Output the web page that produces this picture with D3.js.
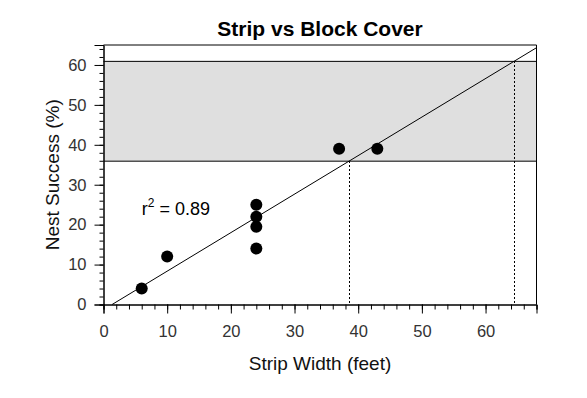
<!DOCTYPE html>
<html>
<head>
<meta charset="utf-8">
<script src="https://cdn.jsdelivr.net/npm/d3@7"></script>
<style>
  body { margin: 0; background: #fff; }
  text { font-family: "Liberation Sans", Arial, sans-serif; }
</style>
</head>
<body>
<div id="wrapper"></div>
<script>
// Data
const stripWidth = [6, 10, 24, 24, 24, 24, 37, 43]
const nestSuccess = [4, 12, 25, 22, 19.5, 14, 39, 39]

// shaded band: range of block cover nest success (%)
const blockCoverRange = [35.9, 60.9]

// regression fit: success = slope * width + intercept
const fitSlope = 0.965
const fitIntercept = -1.3
const rSquared = "0.89"

const xTicks = [0, 10, 20, 30, 40, 50, 60]
const yTicks = [0, 10, 20, 30, 40, 50, 60]

let dimensions = {
  width: 587,
  height: 398,
  margin: { top: 45, right: 50.5, bottom: 93.5, left: 103.5 }
}
dimensions.boundedWidth = dimensions.width - dimensions.margin.left - dimensions.margin.right
dimensions.boundedHeight = dimensions.height - dimensions.margin.top - dimensions.margin.bottom

const wrapper = d3.select('#wrapper').append('svg')
  .attr('width', dimensions.width).attr('height', dimensions.height)
const bounds = wrapper.append('g')
  .attr('transform', `translate(${dimensions.margin.left},${dimensions.margin.top})`)

const xScale = d3.scaleLinear().domain([0, 68]).range([0, dimensions.boundedWidth])
const yScale = d3.scaleLinear().domain([0, 65]).range([dimensions.boundedHeight, 0])

// band
bounds.append('rect')
  .attr('x', 0)
  .attr('width', dimensions.boundedWidth)
  .attr('y', yScale(blockCoverRange[1]))
  .attr('height', yScale(blockCoverRange[0]) - yScale(blockCoverRange[1]))
  .attr('fill', '#dfdfdf')
blockCoverRange.forEach(v => {
  bounds.append('line')
    .attr('x1', 0).attr('x2', dimensions.boundedWidth)
    .attr('y1', yScale(v)).attr('y2', yScale(v))
    .attr('stroke', 'black').attr('stroke-width', 1)
})

// dotted drops where the fit crosses the band
blockCoverRange.forEach(v => {
  const xv = (v - fitIntercept) / fitSlope
  bounds.append('line')
    .attr('x1', Math.round(xScale(xv)) + 0.5).attr('x2', Math.round(xScale(xv)) + 0.5)
    .attr('y1', yScale(v)).attr('y2', dimensions.boundedHeight)
    .attr('stroke', 'black').attr('stroke-width', 1)
    .attr('stroke-dasharray', '2,2')
    .attr('shape-rendering', 'crispEdges')
})

// regression line
const xStart = -fitIntercept / fitSlope
const xEnd = xScale.domain()[1]
bounds.append('line')
  .attr('x1', xScale(xStart)).attr('y1', yScale(0))
  .attr('x2', xScale(xEnd)).attr('y2', yScale(fitSlope * xEnd + fitIntercept))
  .attr('stroke', 'black').attr('stroke-width', 1)

// points
bounds.append('g').selectAll('circle')
  .data(stripWidth)
  .join('circle')
  .attr('cx', d => xScale(d))
  .attr('cy', (d, i) => yScale(nestSuccess[i]))
  .attr('r', 6)
  .attr('fill', 'black')

// frame top + right
bounds.append('path')
  .attr('d', `M0,0H${dimensions.boundedWidth}V${dimensions.boundedHeight}`)
  .attr('fill', 'none').attr('stroke', 'black')

// axes
const xAxis = bounds.append('g')
  .attr('transform', `translate(0,${dimensions.boundedHeight})`)
xAxis.call(d3.axisBottom(xScale).tickValues(d3.range(0, 69, 2)).tickSize(5).tickFormat(''))
xAxis.call(g => g.append('g').call(d3.axisBottom(xScale).tickValues(xTicks).tickSize(9).tickPadding(12)))
xAxis.selectAll('.domain').attr('stroke', 'black')
xAxis.selectAll('text').attr('font-size', 16.5).attr('fill', '#333')
  .attr('font-family', '"Liberation Sans", Arial, sans-serif')

const yAxis = bounds.append('g')
yAxis.call(d3.axisLeft(yScale).tickValues(d3.range(0, 66, 2)).tickSize(4).tickFormat(''))
yAxis.call(g => g.append('g').call(d3.axisLeft(yScale).tickValues(yTicks).tickSize(9).tickPadding(8)))
yAxis.selectAll('text').attr('font-size', 16.5).attr('fill', '#333')
  .attr('font-family', '"Liberation Sans", Arial, sans-serif')

// r squared label
const rLabel = bounds.append('text')
  .attr('x', xScale(6))
  .attr('y', yScale(22.3))
  .attr('font-size', 18)
  .attr('fill', 'black')
rLabel.append('tspan').text('r')
rLabel.append('tspan').text('2').attr('font-size', 12).attr('dy', -8)
rLabel.append('tspan').text(` = ${rSquared}`).attr('dy', 8)

// title and axis labels
wrapper.append('text')
  .attr('x', dimensions.margin.left + dimensions.boundedWidth / 2)
  .attr('y', 36)
  .attr('text-anchor', 'middle')
  .attr('font-size', 21)
  .attr('font-weight', 'bold')
  .text('Strip vs Block Cover')

wrapper.append('text')
  .attr('x', dimensions.margin.left + dimensions.boundedWidth / 2)
  .attr('y', 370)
  .attr('text-anchor', 'middle')
  .attr('font-size', 19)
  .attr('fill', '#111')
  .text('Strip Width (feet)')

wrapper.append('text')
  .attr('transform', `translate(59,${dimensions.margin.top + dimensions.boundedHeight / 2}) rotate(-90)`)
  .attr('text-anchor', 'middle')
  .attr('font-size', 19)
  .attr('fill', '#111')
  .text('Nest Success (%)')
</script>
</body>
</html>
